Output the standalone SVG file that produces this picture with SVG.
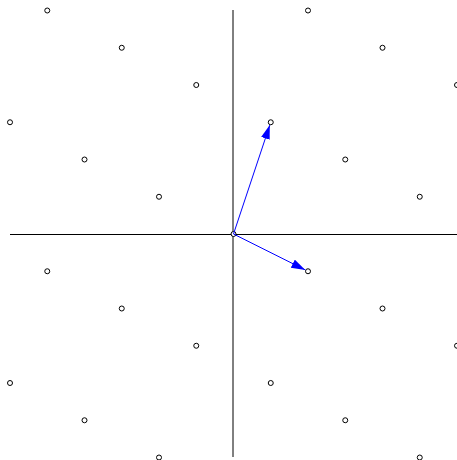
<svg xmlns="http://www.w3.org/2000/svg" width="457" height="460" viewBox="0 0 457 460">
<style>
.pt{fill:#fff;stroke:#000;stroke-width:1}
.vec{stroke:#0000ff;stroke-width:1;fill:none}
</style>
<defs>
<marker id="ah" markerUnits="userSpaceOnUse" markerWidth="15" markerHeight="10" refX="14" refY="4.5" orient="auto">
<path d="M0,0 L14,4.5 L0,9 Z" fill="#0000ff"/>
</marker>
</defs>
<rect width="457" height="460" fill="#fff"/>
<g id="axes">
<line x1="10" y1="234.5" x2="457" y2="234.5" stroke="#000" stroke-width="1.1"/>
<line x1="233" y1="10" x2="233" y2="457" stroke="#000" stroke-width="1"/>
</g>
<g id="lattice" transform="translate(0,0.5)">
<circle class="pt" cx="47.25" cy="10" r="2.5"/>
<circle class="pt" cx="308" cy="10" r="2.5"/>
<circle class="pt" cx="121.75" cy="47.25" r="2.5"/>
<circle class="pt" cx="382.5" cy="47.25" r="2.5"/>
<circle class="pt" cx="196.25" cy="84.5" r="2.5"/>
<circle class="pt" cx="457" cy="84.5" r="2.5"/>
<circle class="pt" cx="10" cy="121.75" r="2.5"/>
<circle class="pt" cx="270.75" cy="121.75" r="2.5"/>
<circle class="pt" cx="84.5" cy="159" r="2.5"/>
<circle class="pt" cx="345.25" cy="159" r="2.5"/>
<circle class="pt" cx="159" cy="196.25" r="2.5"/>
<circle class="pt" cx="419.75" cy="196.25" r="2.5"/>
<circle class="pt" cx="233.5" cy="233.5" r="2.5"/>
<circle class="pt" cx="47.25" cy="270.75" r="2.5"/>
<circle class="pt" cx="308" cy="270.75" r="2.5"/>
<circle class="pt" cx="121.75" cy="308" r="2.5"/>
<circle class="pt" cx="382.5" cy="308" r="2.5"/>
<circle class="pt" cx="196.25" cy="345.25" r="2.5"/>
<circle class="pt" cx="457" cy="345.25" r="2.5"/>
<circle class="pt" cx="10" cy="382.5" r="2.5"/>
<circle class="pt" cx="270.75" cy="382.5" r="2.5"/>
<circle class="pt" cx="84.5" cy="419.75" r="2.5"/>
<circle class="pt" cx="345.25" cy="419.75" r="2.5"/>
<circle class="pt" cx="159" cy="457" r="2.5"/>
<circle class="pt" cx="419.75" cy="457" r="2.5"/>
</g>
<g id="connectors" transform="translate(0,0.5)">
<line class="vec" x1="233.5" y1="233.5" x2="269.8" y2="124.6" marker-end="url(#ah)"/>
<line class="vec" x1="233.5" y1="233.5" x2="305.3" y2="269.4" marker-end="url(#ah)"/>
</g>
</svg>
